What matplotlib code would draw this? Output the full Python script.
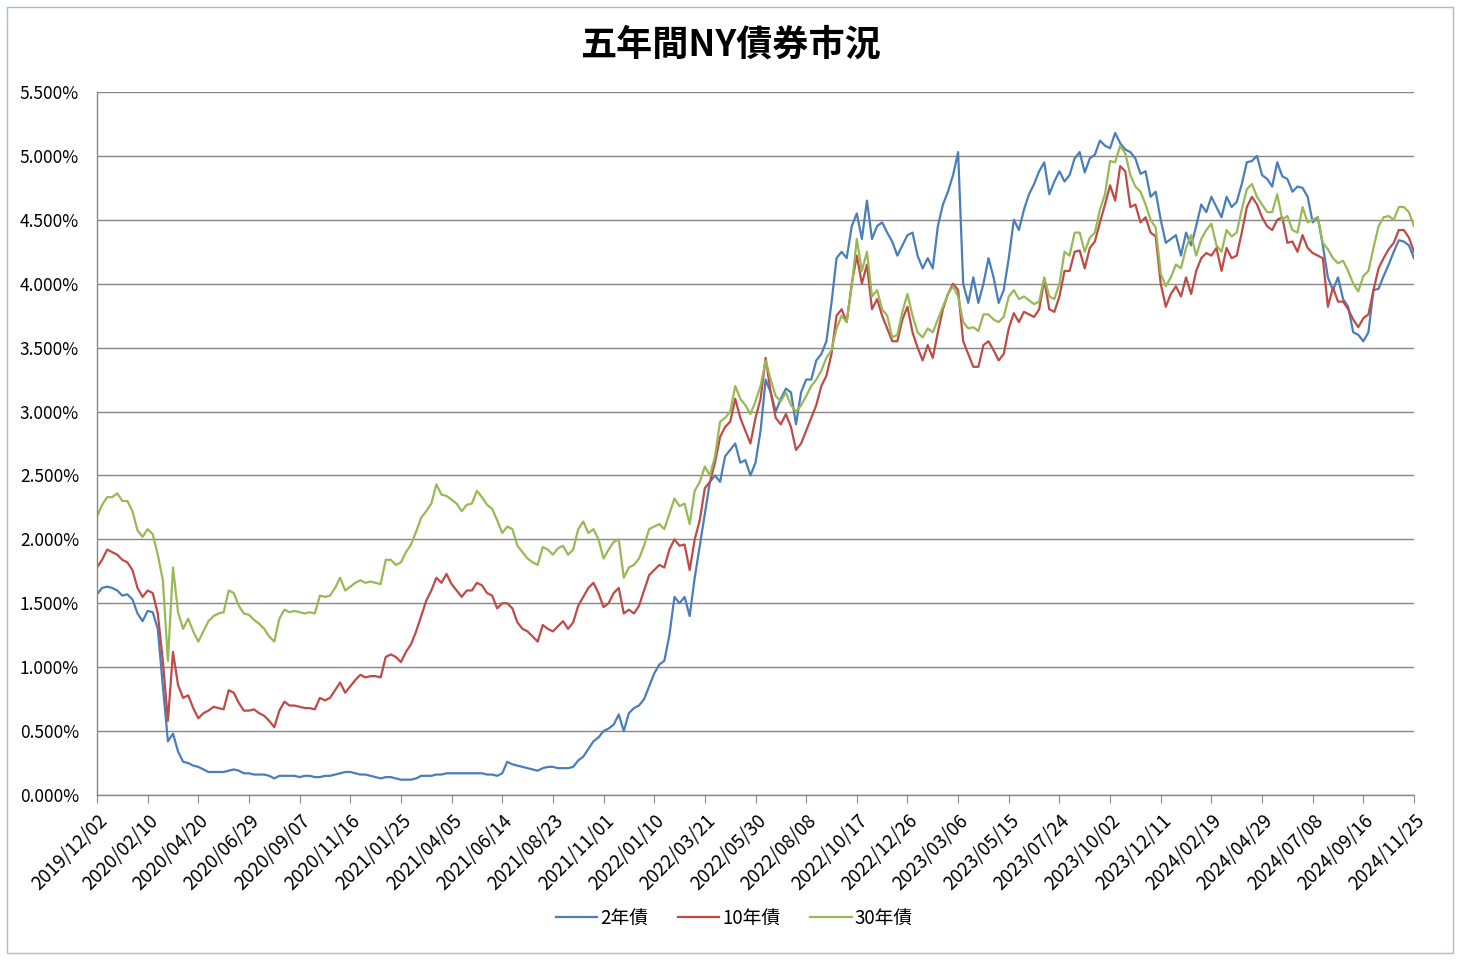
import numpy as np
import matplotlib
matplotlib.use("Agg")
import matplotlib.pyplot as plt
from matplotlib.patches import Rectangle
from matplotlib.ticker import FuncFormatter, MultipleLocator

plt.rcParams['font.family'] = ['Noto Sans CJK JP', 'DejaVu Sans']

# weekly readings (Mondays, 2019/12/02 .. 2024/11/25), yield in %
two_year = [
    1.57, 1.62, 1.63, 1.62, 1.60, 1.56, 1.57, 1.53, 1.42, 1.36,
    1.44, 1.43, 1.30, 0.85, 0.42, 0.48, 0.34, 0.26, 0.25, 0.23,
    0.22, 0.20, 0.18, 0.18, 0.18, 0.18, 0.19, 0.20, 0.19, 0.17,
    0.17, 0.16, 0.16, 0.16, 0.15, 0.13, 0.15, 0.15, 0.15, 0.15,
    0.14, 0.15, 0.15, 0.14, 0.14, 0.15, 0.15, 0.16, 0.17, 0.18,
    0.18, 0.17, 0.16, 0.16, 0.15, 0.14, 0.13, 0.14, 0.14, 0.13,
    0.12, 0.12, 0.12, 0.13, 0.15, 0.15, 0.15, 0.16, 0.16, 0.17,
    0.17, 0.17, 0.17, 0.17, 0.17, 0.17, 0.17, 0.16, 0.16, 0.15,
    0.17, 0.26, 0.24, 0.23, 0.22, 0.21, 0.20, 0.19, 0.21, 0.22,
    0.22, 0.21, 0.21, 0.21, 0.22, 0.27, 0.30, 0.36, 0.42, 0.45,
    0.50, 0.52, 0.55, 0.63, 0.50, 0.64, 0.68, 0.70, 0.75, 0.85,
    0.95, 1.02, 1.05, 1.25, 1.55, 1.50, 1.55, 1.40, 1.70, 1.95,
    2.20, 2.45, 2.50, 2.45, 2.65, 2.70, 2.75, 2.60, 2.62, 2.50,
    2.60, 2.85, 3.25, 3.15, 3.00, 3.10, 3.18, 3.15, 2.90, 3.15,
    3.25, 3.25, 3.40, 3.45, 3.55, 3.85, 4.20, 4.25, 4.20, 4.45,
    4.55, 4.35, 4.65, 4.35, 4.45, 4.48, 4.40, 4.33, 4.22, 4.30,
    4.38, 4.40, 4.22, 4.12, 4.20, 4.12, 4.45, 4.62, 4.72, 4.85,
    5.03, 4.00, 3.85, 4.05, 3.85, 4.00, 4.20, 4.05, 3.85, 3.95,
    4.20, 4.50, 4.42, 4.58, 4.70, 4.78, 4.88, 4.95, 4.70, 4.80,
    4.88, 4.80, 4.85, 4.98, 5.03, 4.87, 4.98, 5.01, 5.12, 5.08,
    5.06, 5.18, 5.10, 5.05, 5.03, 4.98, 4.86, 4.88, 4.68, 4.72,
    4.50, 4.32, 4.35, 4.38, 4.22, 4.40, 4.30, 4.45, 4.62, 4.56,
    4.68, 4.60, 4.52, 4.68, 4.60, 4.64, 4.78, 4.95, 4.96, 5.00,
    4.85, 4.82, 4.76, 4.95, 4.84, 4.82, 4.72, 4.76, 4.75, 4.68,
    4.48, 4.52, 4.30, 4.05, 3.95, 4.05, 3.88, 3.82, 3.62, 3.60,
    3.55, 3.62, 3.95, 3.96, 4.06, 4.15, 4.25, 4.34, 4.33, 4.30, 4.20,
]

ten_year = [
    1.78, 1.84, 1.92, 1.90, 1.88, 1.84, 1.82, 1.76, 1.62, 1.55,
    1.60, 1.58, 1.42, 1.05, 0.58, 1.12, 0.86, 0.76, 0.78, 0.68,
    0.60, 0.64, 0.66, 0.69, 0.68, 0.67, 0.82, 0.80, 0.72, 0.66,
    0.66, 0.67, 0.64, 0.62, 0.58, 0.53, 0.66, 0.73, 0.70, 0.70,
    0.69, 0.68, 0.68, 0.67, 0.76, 0.74, 0.76, 0.82, 0.88, 0.80,
    0.85, 0.90, 0.94, 0.92, 0.93, 0.93, 0.92, 1.08, 1.10, 1.08,
    1.04, 1.12, 1.18, 1.28, 1.40, 1.52, 1.60, 1.70, 1.66, 1.73,
    1.65, 1.60, 1.55, 1.60, 1.60, 1.66, 1.64, 1.58, 1.56, 1.46,
    1.50, 1.50, 1.46, 1.35, 1.30, 1.28, 1.24, 1.20, 1.33, 1.30,
    1.28, 1.32, 1.36, 1.30, 1.35, 1.48, 1.55, 1.62, 1.66, 1.58,
    1.47, 1.50, 1.58, 1.62, 1.42, 1.45, 1.42, 1.48, 1.60, 1.72,
    1.76, 1.80, 1.78, 1.92, 2.00, 1.95, 1.96, 1.76, 2.00, 2.15,
    2.40, 2.45, 2.60, 2.80, 2.88, 2.92, 3.10, 2.95, 2.85, 2.75,
    2.95, 3.10, 3.42, 3.15, 2.95, 2.90, 2.98, 2.88, 2.70, 2.75,
    2.85, 2.95, 3.05, 3.20, 3.28, 3.45, 3.75, 3.80, 3.70, 4.00,
    4.22, 4.00, 4.15, 3.80, 3.88, 3.75, 3.65, 3.55, 3.55, 3.72,
    3.82, 3.62, 3.50, 3.40, 3.52, 3.42, 3.62, 3.80, 3.92, 4.00,
    3.95, 3.55, 3.45, 3.35, 3.35, 3.52, 3.55, 3.48, 3.40, 3.45,
    3.65, 3.77, 3.70, 3.78, 3.76, 3.74, 3.80, 4.03, 3.80, 3.78,
    3.90, 4.10, 4.10, 4.25, 4.26, 4.12, 4.28, 4.33, 4.48, 4.62,
    4.77, 4.65, 4.92, 4.88, 4.60, 4.62, 4.48, 4.52, 4.40, 4.37,
    4.00, 3.82, 3.92, 3.98, 3.90, 4.05, 3.92, 4.10, 4.20, 4.24,
    4.22, 4.28, 4.10, 4.28, 4.20, 4.22, 4.40, 4.60, 4.68, 4.62,
    4.52, 4.45, 4.42, 4.50, 4.52, 4.32, 4.33, 4.25, 4.38, 4.28,
    4.24, 4.22, 4.20, 3.82, 3.97, 3.86, 3.86, 3.80, 3.72, 3.66,
    3.73, 3.76, 3.95, 4.12, 4.20, 4.27, 4.32, 4.42, 4.42, 4.36, 4.25,
]

thirty_year = [
    2.18, 2.27, 2.33, 2.33, 2.36, 2.30, 2.30, 2.22, 2.07, 2.02,
    2.08, 2.04, 1.88, 1.68, 1.05, 1.78, 1.43, 1.30, 1.38, 1.28,
    1.20, 1.28, 1.36, 1.40, 1.42, 1.43, 1.60, 1.58, 1.48, 1.42,
    1.41, 1.37, 1.34, 1.30, 1.24, 1.20, 1.38, 1.45, 1.43, 1.44,
    1.43, 1.42, 1.43, 1.42, 1.56, 1.55, 1.56, 1.62, 1.70, 1.60,
    1.63, 1.66, 1.68, 1.66, 1.67, 1.66, 1.65, 1.84, 1.84, 1.80,
    1.82, 1.90, 1.96, 2.06, 2.17, 2.22, 2.28, 2.43, 2.35, 2.34,
    2.31, 2.28, 2.22, 2.27, 2.28, 2.38, 2.33, 2.27, 2.24, 2.15,
    2.05, 2.10, 2.08, 1.95, 1.90, 1.85, 1.82, 1.80, 1.94, 1.92,
    1.88, 1.93, 1.95, 1.88, 1.92, 2.08, 2.14, 2.05, 2.08, 2.00,
    1.85, 1.92, 1.98, 2.00, 1.70, 1.78, 1.80, 1.85, 1.95, 2.08,
    2.10, 2.12, 2.08, 2.20, 2.32, 2.26, 2.28, 2.12, 2.38, 2.45,
    2.57, 2.50, 2.65, 2.92, 2.95, 3.00, 3.20, 3.10, 3.05, 2.98,
    3.08, 3.20, 3.40, 3.25, 3.12, 3.08, 3.15, 3.05, 3.00, 3.05,
    3.12, 3.20, 3.25, 3.32, 3.42, 3.48, 3.65, 3.75, 3.70, 3.98,
    4.35, 4.10, 4.25, 3.90, 3.95, 3.80, 3.75, 3.58, 3.60, 3.78,
    3.92, 3.75, 3.62, 3.58, 3.65, 3.62, 3.72, 3.82, 3.92, 3.98,
    3.90, 3.70, 3.65, 3.66, 3.63, 3.76, 3.76, 3.72, 3.70, 3.74,
    3.90, 3.95, 3.88, 3.90, 3.87, 3.84, 3.86, 4.05, 3.90, 3.88,
    4.00, 4.25, 4.22, 4.40, 4.40, 4.25, 4.36, 4.40, 4.58, 4.70,
    4.96, 4.95, 5.08, 5.02, 4.85, 4.76, 4.72, 4.62, 4.50, 4.44,
    4.08, 3.98, 4.05, 4.15, 4.12, 4.28, 4.38, 4.22, 4.35, 4.42,
    4.47, 4.30, 4.25, 4.42, 4.37, 4.40, 4.58, 4.74, 4.78, 4.68,
    4.62, 4.56, 4.56, 4.70, 4.50, 4.53, 4.42, 4.40, 4.60, 4.48,
    4.50, 4.52, 4.32, 4.27, 4.20, 4.16, 4.18, 4.10, 4.00, 3.94,
    4.06, 4.10, 4.28, 4.45, 4.52, 4.53, 4.50, 4.60, 4.60, 4.56, 4.45,
]

tick_labels = [
    "2019/12/02", "2020/02/10", "2020/04/20", "2020/06/29", "2020/09/07",
    "2020/11/16", "2021/01/25", "2021/04/05", "2021/06/14", "2021/08/23",
    "2021/11/01", "2022/01/10", "2022/03/21", "2022/05/30", "2022/08/08",
    "2022/10/17", "2022/12/26", "2023/03/06", "2023/05/15", "2023/07/24",
    "2023/10/02", "2023/12/11", "2024/02/19", "2024/04/29", "2024/07/08",
    "2024/09/16", "2024/11/25",
]
series_names = ["2年債", "10年債", "30年債"]
series_colors = ["#4a7ebb", "#be4b48", "#98b954"]

fig = plt.figure(figsize=(14.6, 9.6), dpi=100)
ax = fig.add_axes([97 / 1460, 1 - 795 / 960, (1414 - 97) / 1460, (795 - 92) / 960])

x = np.arange(len(two_year))
for vals, name, col in zip([two_year, ten_year, thirty_year], series_names, series_colors):
    ax.plot(x, vals, color=col, lw=1.6, label=name, solid_joinstyle='round')

ax.set_xlim(0, len(two_year) - 1)
ax.set_ylim(0, 5.5)
ax.yaxis.set_major_locator(MultipleLocator(0.5))
ax.yaxis.set_major_formatter(FuncFormatter(lambda v, p: f"{v:.3f}%"))
ax.grid(axis='y', color='#868686', lw=1.0)
ax.set_axisbelow(True)

ax.set_xticks(np.arange(0, len(two_year), 10))
ax.set_xticklabels(tick_labels, rotation=45, ha='right', rotation_mode='anchor', fontsize=13.5)
ax.tick_params(axis='x', direction='out', length=6, color='#868686', pad=5)
ax.tick_params(axis='y', length=0, pad=13, labelsize=12.5)

for s in ['top', 'right']:
    ax.spines[s].set_visible(False)
for s in ['left', 'bottom']:
    ax.spines[s].set_color('#868686')
    ax.spines[s].set_linewidth(1.0)

fig.text(0.5, 1 - 45 / 960, "五年間NY債券市況", ha='center', va='center',
         fontsize=26, fontweight='bold')

fig.legend(loc='center', bbox_to_anchor=(0.503, 1 - 918 / 960), ncol=3, frameon=False,
           fontsize=13.5, handlelength=2.2, handletextpad=0.15, columnspacing=1.6)

fig.patches.append(Rectangle((7 / 1460, 7 / 960), 1446 / 1460, 946 / 960,
                             transform=fig.transFigure, fill=False,
                             edgecolor='#a9bccf', lw=1.0))

fig.savefig("out.png", dpi=100)
